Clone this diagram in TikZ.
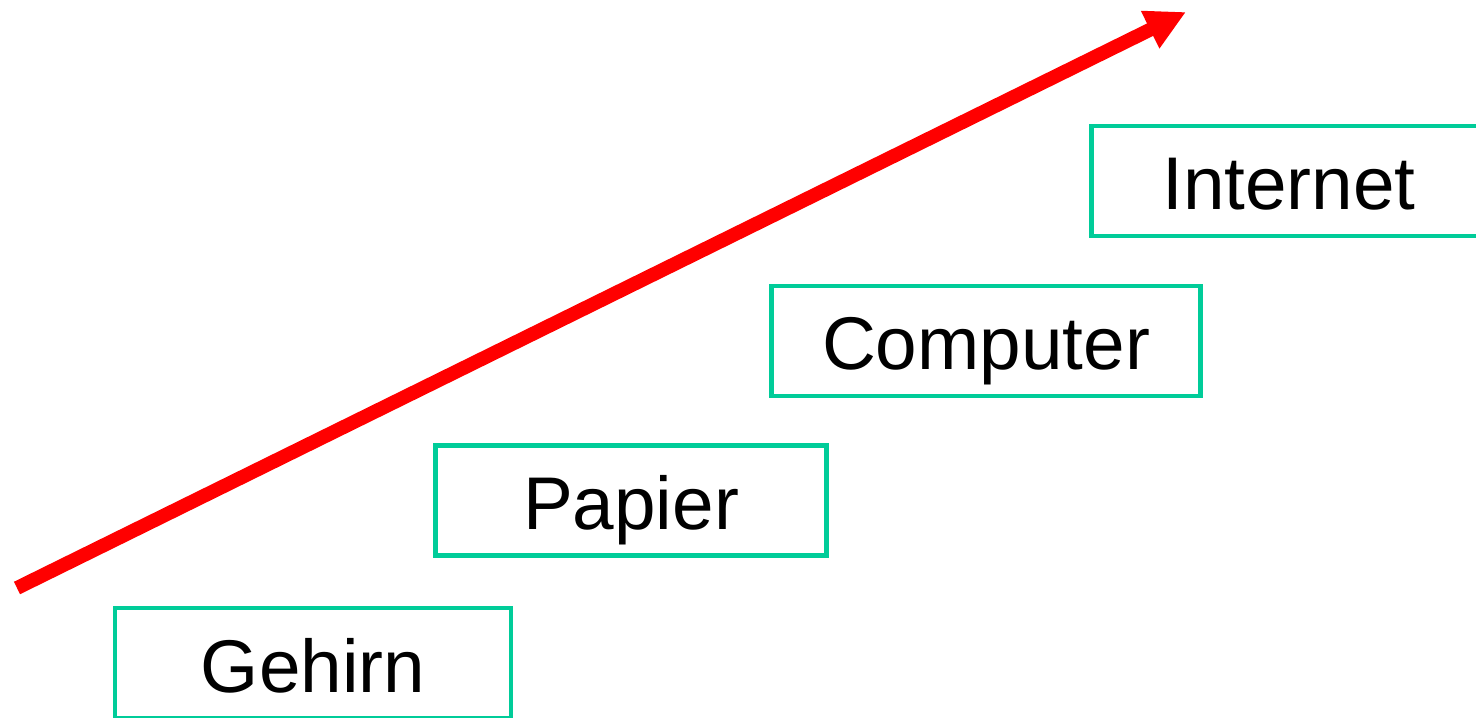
\documentclass[tikz,border=0pt]{standalone}
\usepackage{fontspec}
\setmainfont{Liberation Sans}
\usetikzlibrary{arrows.meta}
\definecolor{boxgreen}{RGB}{0,204,153}
\tikzset{stufe/.style={draw=boxgreen,line width=2.8pt,minimum height=2.2cm,
  inner sep=0pt,text height=1.16cm,text depth=0cm,font=\fontsize{42.5}{51}\selectfont}}
\begin{document}
\begin{tikzpicture}
\useasboundingbox (0,0) rectangle (29.52,14.34);
%
\node[stufe,minimum width=7.92cm] (gehirn)   at (6.26,1.08)   {Gehirn};
\node[stufe,minimum width=7.82cm] (papier)   at (12.62,4.33)  {Papier};
\node[stufe,minimum width=8.58cm] (computer) at (19.72,7.52)  {Computer};
\node[stufe,minimum width=7.90cm] (internet) at (25.78,10.72) {Internet};
%
\coordinate (start) at (0.34,2.58);
\coordinate (ziel)  at (23.72,14.10);
\draw[red,line width=7.9pt,-{Triangle[length=0.8cm,width=0.78cm]}] (start) -- (ziel);
%
\end{tikzpicture}
\end{document}
